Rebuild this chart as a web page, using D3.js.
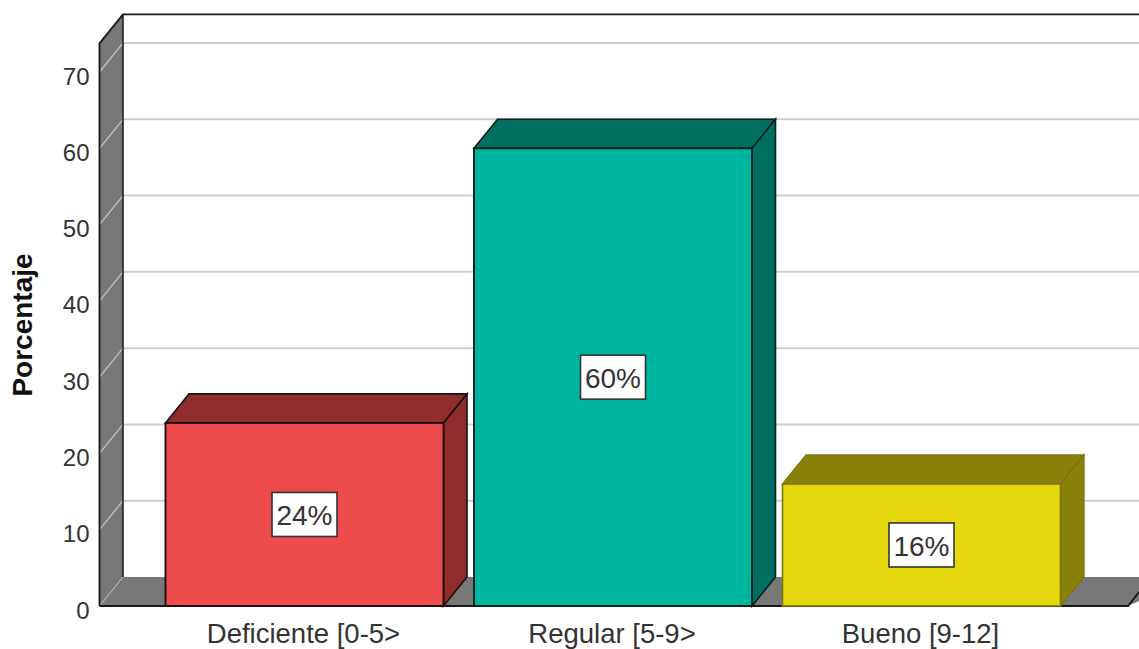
<!DOCTYPE html>
<html><head><meta charset="utf-8">
<script src="https://cdn.jsdelivr.net/npm/d3@7"></script>
<style>html,body{margin:0;background:#fff}svg{display:block}text{font-family:"Liberation Sans",Arial,sans-serif}</style>
</head><body><svg width="1139" height="649"></svg>
<script>
const categories=["Deficiente [0-5>","Regular [5-9>","Bueno [9-12]"];
const values=[24,60,16];
const frontColors=["#ee4b4c","#00b5a0","#e5d80e"];
const sideColors=["#8f2d2d","#006f61","#8a8208"];
const edgeColors=["#1a1010","#06201c","#7c7510"];
const yTicks=[0,10,20,30,40,50,60,70];
const depthX=23.5,depthY=29;
const svg=d3.select("svg");
const y=d3.scaleLinear().domain([0,70]).range([606,72]);
const x=d3.scaleBand().domain(categories).range([165.5,1060.5]).paddingInner(0.0989).paddingOuter(0);
const barW=x.bandwidth();
const left=99.5,right=1139,base=y(0),wallTop=y(73.75);
const stroke="#161616";
const wallFill="#787878";
// side wall and floor
svg.append("path").attr("d",`M${left} ${wallTop}V${base}L${left+depthX} ${base-depthY}V${wallTop-depthY}Z`).attr("fill",wallFill);
svg.append("path").attr("d",`M${left} ${base}L${left+depthX} ${base-depthY}H${right+20}V${base-14}L${1128} ${base}Z`).attr("fill",wallFill);
// grid
yTicks.slice(1).forEach(v=>{
 svg.append("line").attr("x1",left+depthX).attr("x2",right).attr("y1",y(v)-depthY).attr("y2",y(v)-depthY).attr("stroke","#cdcdcd").attr("stroke-width",2);
 svg.append("line").attr("x1",left).attr("x2",left+depthX).attr("y1",y(v)).attr("y2",y(v)-depthY).attr("stroke","#c4c4c4").attr("stroke-width",1.2);
});
svg.append("line").attr("x1",left).attr("x2",left+depthX).attr("y1",base).attr("y2",base-depthY).attr("stroke","#bdbdbd").attr("stroke-width",1);
// wall outlines
svg.append("path").attr("d",`M${left} ${base}V${wallTop}L${left+depthX} ${wallTop-depthY}H${right}`).attr("fill","none").attr("stroke",stroke).attr("stroke-width",1.8);
svg.append("line").attr("x1",left+depthX).attr("x2",left+depthX).attr("y1",wallTop-depthY).attr("y2",base-depthY).attr("stroke",stroke).attr("stroke-width",1.5);
svg.append("path").attr("d",`M${left} ${base}H1128L1139 ${base-14}`).attr("fill","none").attr("stroke",stroke).attr("stroke-width",1.8);
// left axis
const axis=d3.axisLeft(y).tickValues(yTicks).tickSize(0).tickFormat(d3.format("d"));
const gA=svg.append("g").attr("transform",`translate(${left},0)`).call(axis);
gA.select(".domain").remove();
gA.selectAll("text").attr("font-size",24).attr("fill","#333").attr("x",-10).attr("dy","0.5em");
// bars
categories.forEach((c,i)=>{
 const l=x(c),r=l+barW,cx=l+barW/2,t=y(values[i]);
 const g=svg.append("g");
 const sw=i===2?1.3:1.6;
 g.append("path").attr("d",`M${l} ${t}L${l+depthX} ${t-depthY}H${r+depthX}L${r} ${t}Z`).attr("fill",sideColors[i]).attr("stroke",edgeColors[i]).attr("stroke-width",sw);
 g.append("path").attr("d",`M${r} ${t}L${r+depthX} ${t-depthY}V${base-depthY}L${r} ${base}Z`).attr("fill",sideColors[i]).attr("stroke",edgeColors[i]).attr("stroke-width",sw);
 g.append("rect").attr("x",l).attr("y",t).attr("width",barW).attr("height",base-t).attr("fill",frontColors[i]).attr("stroke",edgeColors[i]).attr("stroke-width",sw+0.3);
 const my=(t+base)/2;
 g.append("rect").attr("x",cx-32.5).attr("y",my-22).attr("width",65).attr("height",44).attr("fill","#fff").attr("stroke","#333").attr("stroke-width",1.6);
 g.append("text").attr("x",cx).attr("y",my+11).attr("text-anchor","middle").attr("font-size",28).attr("fill","#333").text(values[i]+"%");
 svg.append("text").attr("x",cx-1).attr("y",643).attr("text-anchor","middle").attr("font-size",27.5).attr("fill","#333").text(c);
});
svg.append("text").attr("transform","translate(32,325) rotate(-90)").attr("text-anchor","middle").attr("font-size",28).attr("font-weight","bold").attr("fill","#111").text("Porcentaje");
</script></body></html>
